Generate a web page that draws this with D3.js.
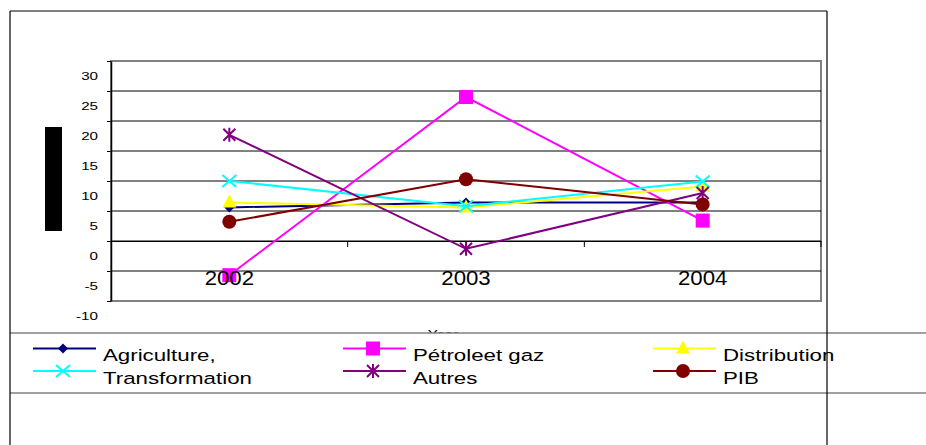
<!DOCTYPE html>
<html lang="fr">
<head>
<meta charset="UTF-8">
<title>Croissance par secteur</title>
<script src="https://d3js.org/d3.v7.min.js"></script>
<style>
  body { margin: 0; background: #fff; }
  svg { display: block; font-family: Arial, "Liberation Sans", sans-serif; }
</style>
</head>
<body>
<div id="chart"></div>
<script>
// data
const years = ["2002", "2003", "2004"];
const agriculture = [5.6, 6.4, 6.4];
const petrole = [-5.7, 24.0, 3.4];
const distribution = [6.4, 5.6, 9.1];
const transformation = [10.0, 5.8, 9.9];
const autres = [17.7, -1.3, 8.0];
const pib = [3.2, 10.3, 6.1];
const yTicks = [-10, -5, 0, 5, 10, 15, 20, 25, 30];

const series = [
  {name: "Agriculture,", values: agriculture, color: "#000080", marker: "diamond"},
  {name: "Pétroleet gaz", values: petrole, color: "#FF00FF", marker: "square"},
  {name: "Distribution", values: distribution, color: "#FFFF00", marker: "triangle"},
  {name: "Transformation", values: transformation, color: "#00FFFF", marker: "x"},
  {name: "Autres", values: autres, color: "#800080", marker: "star"},
  {name: "PIB", values: pib, color: "#800000", marker: "circle"}
];

const W = 926, H = 445;
const plot = {left: 111, right: 821, top: 61, bottom: 301};

const svg = d3.select("#chart").append("svg")
  .attr("width", W).attr("height", H);

const x = d3.scaleBand().domain(years).range([plot.left, plot.right]).padding(0);
const y = d3.scaleLinear().domain([-10, 30]).range([plot.bottom, plot.top]);
const cx = d => x(d) + x.bandwidth() / 2;

// marker drawing
function marker(g, type, color) {
  if (type === "diamond") {
    g.append("path").attr("d", "M0,-5L5,0L0,5L-5,0Z").attr("fill", color);
  } else if (type === "square") {
    g.append("rect").attr("x", -7).attr("y", -7).attr("width", 14).attr("height", 14).attr("fill", color);
  } else if (type === "triangle") {
    g.append("path").attr("d", "M0,-8L7,5L-7,5Z").attr("fill", color);
  } else if (type === "circle") {
    g.append("circle").attr("r", 7).attr("fill", color);
  } else if (type === "x") {
    g.append("path").attr("d", "M-7,-6L7,6M-7,6L7,-6")
      .attr("stroke", color).attr("stroke-width", 2).attr("fill", "none");
  } else if (type === "star") {
    g.append("path").attr("d", "M-6,-6L6,6M-6,6L6,-6M0,-7L0,7")
      .attr("stroke", color).attr("stroke-width", 2).attr("fill", "none");
  }
}

// plot area border
svg.append("rect")
  .attr("x", plot.left).attr("y", plot.top)
  .attr("width", plot.right - plot.left).attr("height", plot.bottom - plot.top)
  .attr("fill", "none").attr("stroke", "#808080").attr("stroke-width", 2);

// gridlines
svg.append("g")
  .selectAll("line")
  .data(yTicks.filter(t => t > -10 && t < 30))
  .enter().append("line")
  .attr("x1", plot.left).attr("x2", plot.right)
  .attr("y1", d => y(d)).attr("y2", d => y(d))
  .attr("stroke", "#000").attr("stroke-width", 1);

// y axis (labels sit oddly below their ticks in the original)
const yAxis = svg.append("g")
  .attr("transform", `translate(${plot.left},0)`)
  .call(d3.axisLeft(y).tickValues(yTicks).tickSize(4).tickSizeOuter(0).tickFormat(d => String(d)));
yAxis.select(".domain").attr("stroke", "#000").attr("stroke-width", 1.5);
yAxis.selectAll("text")
  .attr("x", 0).attr("y", 0).attr("dy", null)
  .attr("transform", "translate(-13,18) scale(1.32,1)")
  .style("font-size", "11.5px").attr("fill", "#000")
  .style("font-family", "Arial, 'Liberation Sans', sans-serif");

// category axis at 0
const xAxis = svg.append("g")
  .attr("transform", `translate(0,${y(0)})`)
  .call(d3.axisBottom(x).tickSize(0).tickFormat(""));
xAxis.select(".domain").attr("stroke", "#000").attr("stroke-width", 1);
svg.append("g").selectAll("line")
  .data(years)
  .enter().append("line")
  .attr("x1", d => x(d) + x.bandwidth()).attr("x2", d => x(d) + x.bandwidth())
  .attr("y1", y(0)).attr("y2", y(0) + 6)
  .attr("stroke", "#000");

// series lines and markers
const line = d3.line().x((d, i) => cx(years[i])).y(d => y(d));
series.forEach(s => {
  svg.append("path")
    .datum(s.values)
    .attr("d", line)
    .attr("fill", "none")
    .attr("stroke", s.color)
    .attr("stroke-width", 2);
  s.values.forEach((v, i) => {
    const g = svg.append("g").attr("transform", `translate(${cx(years[i])},${y(v)})`);
    marker(g, s.marker, s.color);
  });
});

// category labels
svg.append("g").selectAll("text")
  .data(years)
  .enter().append("text")
  .attr("transform", d => `translate(${cx(d)},285) scale(1.14,1)`)
  .attr("text-anchor", "middle")
  .style("font-size", "19.5px")
  .text(d => d);

// y title rendered as a black block in the original
svg.append("rect")
  .attr("x", 45).attr("y", 127).attr("width", 17).attr("height", 104)
  .attr("fill", "#000");

// x title, mostly hidden by the legend
svg.append("text")
  .attr("transform", "translate(443,338) scale(1.32,1)")
  .attr("text-anchor", "middle")
  .style("font-size", "11.5px")
  .text("Year");

// legend
const legend = svg.append("g");
legend.append("rect")
  .attr("x", 10).attr("y", 333).attr("width", W - 10).attr("height", 60)
  .attr("fill", "#fff");
[333, 393].forEach(v => {
  legend.append("line")
    .attr("x1", 10).attr("x2", W).attr("y1", v).attr("y2", v)
    .attr("stroke", "#808080").attr("stroke-width", 1.5);
});

const legCols = [33, 343, 653];
const legRows = [348.5, 371];
series.forEach((s, i) => {
  const lx = legCols[i % 3], ly = legRows[Math.floor(i / 3)];
  legend.append("line")
    .attr("x1", lx).attr("x2", lx + 63).attr("y1", ly).attr("y2", ly)
    .attr("stroke", s.color).attr("stroke-width", 2);
  marker(legend.append("g").attr("transform", `translate(${lx + 30},${ly})`), s.marker, s.color);
  legend.append("text")
    .attr("transform", `translate(${lx + 70},${ly + 12.5}) scale(1.35,1)`)
    .style("font-size", "16.5px")
    .text(s.name);
});

// outer frame
const frame = svg.append("g").attr("stroke", "#000").attr("stroke-width", 1.2);
frame.append("line").attr("x1", 10).attr("x2", 827).attr("y1", 11).attr("y2", 11);
frame.append("line").attr("x1", 10).attr("x2", 10).attr("y1", 11).attr("y2", H);
frame.append("line").attr("x1", 827).attr("x2", 827).attr("y1", 11).attr("y2", H);
</script>
</body>
</html>
